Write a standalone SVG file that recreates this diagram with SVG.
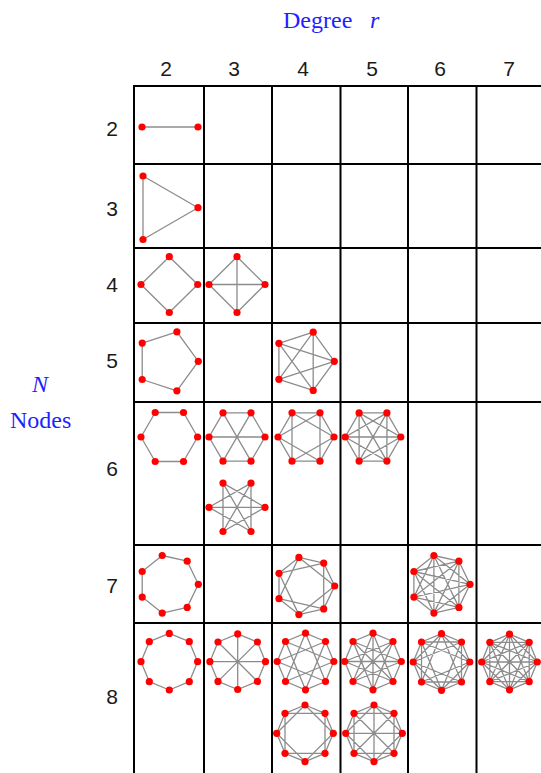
<svg xmlns="http://www.w3.org/2000/svg" xmlns:xlink="http://www.w3.org/1999/xlink" width="541" height="773" viewBox="0 0 541 773">
<style>
.g{stroke:#000;stroke-width:2;fill:none}
.e{fill:none;stroke:#8c8c8c;stroke-width:1.3;stroke-linejoin:round}
.num{font-family:"Liberation Sans",Arial,sans-serif;font-size:21px;fill:#1a1a1a;text-anchor:middle}
.lab{font-family:"Liberation Serif","Times New Roman",serif;font-size:24px;fill:#1f1fff}
</style>
<defs><circle id="d" r="3.6" fill="#ff0000"/></defs>
<rect width="541" height="773" fill="#fff"/>
<g id="titles">
<text class="lab" x="283" y="28">Degree</text>
<text class="lab" x="370" y="28" font-style="italic">r</text>
<text class="lab" x="40" y="392" font-style="italic" text-anchor="middle">N</text>
<text class="lab" x="10" y="428">Nodes</text>
</g>
<g id="col-labels">
<text class="num" x="166" y="76">2</text>
<text class="num" x="234" y="76">3</text>
<text class="num" x="303" y="76">4</text>
<text class="num" x="372" y="76">5</text>
<text class="num" x="440" y="76">6</text>
<text class="num" x="509" y="76">7</text>
</g>
<g id="row-labels">
<text class="num" x="112" y="135.5">2</text>
<text class="num" x="112" y="215.5">3</text>
<text class="num" x="112" y="291.5">4</text>
<text class="num" x="112" y="367.5">5</text>
<text class="num" x="112" y="475.5">6</text>
<text class="num" x="112" y="592.5">7</text>
<text class="num" x="112" y="703.5">8</text>
</g>
<g id="grid" class="g">
<path d="M133 86H541M133 164H541M133 248H541M133 323H541M133 402H541M133 545H541M133 623H541"/>
<path d="M134 85V773M204 85V773M272 85V773M340.5 85V773M408 85V773M476.5 85V773"/>
</g>
<g id="connectors" class="e">
<path d="M142 127L198 127"/>
<path d="M143 176L198 207.7L143 239.5Z"/>
<path d="M169.3 256.7L197.7 284.5L169.3 312.5L141 284.5Z"/>
<path d="M237 256.7L265 284.5L237 312.5L209 284.5ZM237 256.7L237 312.5M209 284.5L265 284.5"/>
<path d="M198.3 361.3L176.9 390.8L142.2 379.5L142.2 343.1L176.9 331.8Z"/>
<path d="M334.3 361.3L313.2 390.4L278.9 379.3L278.9 343.3L313.2 332.2ZM334.3 361.3L278.9 379.3L313.2 332.2L313.2 390.4L278.9 343.3Z"/>
<path d="M197.6 437L183.5 461.5L155.2 461.5L141 437L155.2 412.5L183.5 412.5Z"/>
<path d="M265 437L251 461.2L223 461.2L209 437L223 412.8L251 412.8ZM265 437L209 437M251 461.2L223 412.8M223 461.2L251 412.8"/>
<path d="M265 507.3L223 531.5L223 483.1ZM251 531.5L209 507.3L251 483.1ZM265 507.3L209 507.3M251 531.5L223 483.1M223 531.5L251 483.1"/>
<path d="M334 437L320 461.2L292 461.2L278 437L292 412.8L320 412.8ZM334 437L292 461.2L292 412.8ZM320 461.2L278 437L320 412.8Z"/>
<path d="M400.8 437L386.9 461.1L359.1 461.1L345.2 437L359.1 412.9L386.9 412.9ZM400.8 437L359.1 461.1L359.1 412.9ZM386.9 461.1L345.2 437L386.9 412.9ZM400.8 437L345.2 437M386.9 461.1L359.1 412.9M359.1 461.1L386.9 412.9"/>
<path d="M198.3 584.3L187.2 607.4L162.2 613.1L142.2 597.1L142.2 571.5L162.2 555.5L187.2 561.2Z"/>
<path d="M334.7 586L323.7 608.9L298.9 614.6L279 598.7L279 573.3L298.9 557.4L323.7 563.1ZM334.7 586L298.9 614.6L279 573.3L323.7 563.1L323.7 608.9L279 598.7L298.9 557.4Z"/>
<path d="M470 584.3L458.9 607.4L433.9 613.1L413.9 597.1L413.9 571.5L433.9 555.5L458.9 561.2ZM470 584.3L433.9 613.1L413.9 571.5L458.9 561.2L458.9 607.4L413.9 597.1L433.9 555.5ZM470 584.3L413.9 597.1L458.9 561.2L433.9 613.1L433.9 555.5L458.9 607.4L413.9 571.5Z"/>
<path d="M169.3 633.4L189.3 641.7L197.6 661.7L189.3 681.7L169.3 690L149.3 681.7L141 661.7L149.3 641.7Z"/>
<path d="M237.7 633.9L257.4 642L265.5 661.7L257.4 681.4L237.7 689.5L218 681.4L209.9 661.7L218 642ZM237.7 633.9L237.7 689.5M257.4 642L218 681.4M265.5 661.7L209.9 661.7M257.4 681.4L218 642"/>
<path d="M305.5 633.2L325.5 641.5L333.8 661.5L325.5 681.5L305.5 689.8L285.5 681.5L277.2 661.5L285.5 641.5ZM305.5 633.2L325.5 681.5L277.2 661.5L325.5 641.5L305.5 689.8L285.5 641.5L333.8 661.5L285.5 681.5Z"/>
<path d="M305 705L325 713.3L333.3 733.3L325 753.3L305 761.6L285 753.3L276.7 733.3L285 713.3ZM305 705L333.3 733.3L305 761.6L276.7 733.3ZM325 713.3L325 753.3L285 753.3L285 713.3Z"/>
<path d="M373 633.2L393 641.5L401.3 661.5L393 681.5L373 689.8L353 681.5L344.7 661.5L353 641.5ZM373 633.2L393 681.5L344.7 661.5L393 641.5L373 689.8L353 641.5L401.3 661.5L353 681.5ZM373 633.2L373 689.8M393 641.5L353 681.5M401.3 661.5L344.7 661.5M393 681.5L353 641.5"/>
<path d="M374 705L394 713.3L402.3 733.3L394 753.3L374 761.6L354 753.3L345.7 733.3L354 713.3ZM374 705L402.3 733.3L374 761.6L345.7 733.3ZM394 713.3L394 753.3L354 753.3L354 713.3ZM374 705L374 761.6M394 713.3L354 753.3M402.3 733.3L345.7 733.3M394 753.3L354 713.3"/>
<path d="M441.5 633.7L461.5 642L469.8 662L461.5 682L441.5 690.3L421.5 682L413.2 662L421.5 642ZM441.5 633.7L469.8 662L441.5 690.3L413.2 662ZM461.5 642L461.5 682L421.5 682L421.5 642ZM441.5 633.7L461.5 682L413.2 662L461.5 642L441.5 690.3L421.5 642L469.8 662L421.5 682Z"/>
<path d="M509.5 634.2L529.2 642.3L537.3 662L529.2 681.7L509.5 689.8L489.8 681.7L481.7 662L489.8 642.3ZM509.5 634.2L537.3 662L509.5 689.8L481.7 662ZM529.2 642.3L529.2 681.7L489.8 681.7L489.8 642.3ZM509.5 634.2L529.2 681.7L481.7 662L529.2 642.3L509.5 689.8L489.8 642.3L537.3 662L489.8 681.7ZM509.5 634.2L509.5 689.8M529.2 642.3L489.8 681.7M537.3 662L481.7 662M529.2 681.7L489.8 642.3"/>
</g>
<g id="n2r2"><use href="#d" x="142" y="127"/><use href="#d" x="198" y="127"/></g>
<g id="n3r2"><use href="#d" x="143" y="176"/><use href="#d" x="198" y="207.7"/><use href="#d" x="143" y="239.5"/></g>
<g id="n4r2"><use href="#d" x="169.3" y="256.7"/><use href="#d" x="197.7" y="284.5"/><use href="#d" x="169.3" y="312.5"/><use href="#d" x="141" y="284.5"/></g>
<g id="n4r3"><use href="#d" x="237" y="256.7"/><use href="#d" x="265" y="284.5"/><use href="#d" x="237" y="312.5"/><use href="#d" x="209" y="284.5"/></g>
<g id="n5r2"><use href="#d" x="198.3" y="361.3"/><use href="#d" x="176.9" y="390.8"/><use href="#d" x="142.2" y="379.5"/><use href="#d" x="142.2" y="343.1"/><use href="#d" x="176.9" y="331.8"/></g>
<g id="n5r4"><use href="#d" x="334.3" y="361.3"/><use href="#d" x="313.2" y="390.4"/><use href="#d" x="278.9" y="379.3"/><use href="#d" x="278.9" y="343.3"/><use href="#d" x="313.2" y="332.2"/></g>
<g id="n6r2"><use href="#d" x="197.6" y="437"/><use href="#d" x="183.5" y="461.5"/><use href="#d" x="155.2" y="461.5"/><use href="#d" x="141" y="437"/><use href="#d" x="155.2" y="412.5"/><use href="#d" x="183.5" y="412.5"/></g>
<g id="n6r3a"><use href="#d" x="265" y="437"/><use href="#d" x="251" y="461.2"/><use href="#d" x="223" y="461.2"/><use href="#d" x="209" y="437"/><use href="#d" x="223" y="412.8"/><use href="#d" x="251" y="412.8"/></g>
<g id="n6r3b"><use href="#d" x="265" y="507.3"/><use href="#d" x="251" y="531.5"/><use href="#d" x="223" y="531.5"/><use href="#d" x="209" y="507.3"/><use href="#d" x="223" y="483.1"/><use href="#d" x="251" y="483.1"/></g>
<g id="n6r4"><use href="#d" x="334" y="437"/><use href="#d" x="320" y="461.2"/><use href="#d" x="292" y="461.2"/><use href="#d" x="278" y="437"/><use href="#d" x="292" y="412.8"/><use href="#d" x="320" y="412.8"/></g>
<g id="n6r5"><use href="#d" x="400.8" y="437"/><use href="#d" x="386.9" y="461.1"/><use href="#d" x="359.1" y="461.1"/><use href="#d" x="345.2" y="437"/><use href="#d" x="359.1" y="412.9"/><use href="#d" x="386.9" y="412.9"/></g>
<g id="n7r2"><use href="#d" x="198.3" y="584.3"/><use href="#d" x="187.2" y="607.4"/><use href="#d" x="162.2" y="613.1"/><use href="#d" x="142.2" y="597.1"/><use href="#d" x="142.2" y="571.5"/><use href="#d" x="162.2" y="555.5"/><use href="#d" x="187.2" y="561.2"/></g>
<g id="n7r4"><use href="#d" x="334.7" y="586"/><use href="#d" x="323.7" y="608.9"/><use href="#d" x="298.9" y="614.6"/><use href="#d" x="279" y="598.7"/><use href="#d" x="279" y="573.3"/><use href="#d" x="298.9" y="557.4"/><use href="#d" x="323.7" y="563.1"/></g>
<g id="n7r6"><use href="#d" x="470" y="584.3"/><use href="#d" x="458.9" y="607.4"/><use href="#d" x="433.9" y="613.1"/><use href="#d" x="413.9" y="597.1"/><use href="#d" x="413.9" y="571.5"/><use href="#d" x="433.9" y="555.5"/><use href="#d" x="458.9" y="561.2"/></g>
<g id="n8r2"><use href="#d" x="169.3" y="633.4"/><use href="#d" x="189.3" y="641.7"/><use href="#d" x="197.6" y="661.7"/><use href="#d" x="189.3" y="681.7"/><use href="#d" x="169.3" y="690"/><use href="#d" x="149.3" y="681.7"/><use href="#d" x="141" y="661.7"/><use href="#d" x="149.3" y="641.7"/></g>
<g id="n8r3"><use href="#d" x="237.7" y="633.9"/><use href="#d" x="257.4" y="642"/><use href="#d" x="265.5" y="661.7"/><use href="#d" x="257.4" y="681.4"/><use href="#d" x="237.7" y="689.5"/><use href="#d" x="218" y="681.4"/><use href="#d" x="209.9" y="661.7"/><use href="#d" x="218" y="642"/></g>
<g id="n8r4a"><use href="#d" x="305.5" y="633.2"/><use href="#d" x="325.5" y="641.5"/><use href="#d" x="333.8" y="661.5"/><use href="#d" x="325.5" y="681.5"/><use href="#d" x="305.5" y="689.8"/><use href="#d" x="285.5" y="681.5"/><use href="#d" x="277.2" y="661.5"/><use href="#d" x="285.5" y="641.5"/></g>
<g id="n8r4b"><use href="#d" x="305" y="705"/><use href="#d" x="325" y="713.3"/><use href="#d" x="333.3" y="733.3"/><use href="#d" x="325" y="753.3"/><use href="#d" x="305" y="761.6"/><use href="#d" x="285" y="753.3"/><use href="#d" x="276.7" y="733.3"/><use href="#d" x="285" y="713.3"/></g>
<g id="n8r5a"><use href="#d" x="373" y="633.2"/><use href="#d" x="393" y="641.5"/><use href="#d" x="401.3" y="661.5"/><use href="#d" x="393" y="681.5"/><use href="#d" x="373" y="689.8"/><use href="#d" x="353" y="681.5"/><use href="#d" x="344.7" y="661.5"/><use href="#d" x="353" y="641.5"/></g>
<g id="n8r5b"><use href="#d" x="374" y="705"/><use href="#d" x="394" y="713.3"/><use href="#d" x="402.3" y="733.3"/><use href="#d" x="394" y="753.3"/><use href="#d" x="374" y="761.6"/><use href="#d" x="354" y="753.3"/><use href="#d" x="345.7" y="733.3"/><use href="#d" x="354" y="713.3"/></g>
<g id="n8r6"><use href="#d" x="441.5" y="633.7"/><use href="#d" x="461.5" y="642"/><use href="#d" x="469.8" y="662"/><use href="#d" x="461.5" y="682"/><use href="#d" x="441.5" y="690.3"/><use href="#d" x="421.5" y="682"/><use href="#d" x="413.2" y="662"/><use href="#d" x="421.5" y="642"/></g>
<g id="n8r7"><use href="#d" x="509.5" y="634.2"/><use href="#d" x="529.2" y="642.3"/><use href="#d" x="537.3" y="662"/><use href="#d" x="529.2" y="681.7"/><use href="#d" x="509.5" y="689.8"/><use href="#d" x="489.8" y="681.7"/><use href="#d" x="481.7" y="662"/><use href="#d" x="489.8" y="642.3"/></g>
</svg>
